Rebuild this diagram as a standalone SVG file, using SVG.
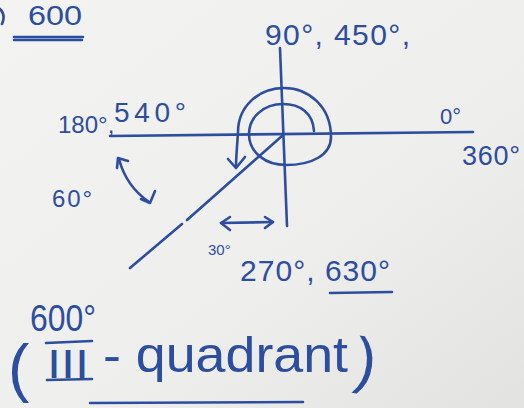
<svg xmlns="http://www.w3.org/2000/svg" width="524" height="408" viewBox="0 0 524 408">
<defs>
<linearGradient id="bg" x1="0" y1="0" x2="1" y2="1">
<stop offset="0" stop-color="#f3f3f1"/>
<stop offset="0.6" stop-color="#eeeeec"/>
<stop offset="1" stop-color="#e2e2e0"/>
</linearGradient>
</defs>
<style>
.ink{fill:none;stroke:#2d4d9e;stroke-width:2.6;stroke-linecap:round;stroke-linejoin:round}
.t{fill:#2d4d9e;font-family:"Liberation Sans","DejaVu Sans",sans-serif}
</style>
<rect width="524" height="408" fill="url(#bg)"/>

<g id="axes">
<path class="ink" d="M280,48 L287,226"/>
<path class="ink" d="M110,136 L473,132"/>
<path class="ink" d="M282,136 L187,220 M182,224 L130,268"/>
</g>

<g id="spiral">
<path class="ink" d="M314,131 C313,113 300,104 283,104 C264,104 249,117 249,134 C249,153 266,165 286,165 C312,165 331,155 331,137 C331,106 308,88 284,88 C258,88 238,107 238,132 C237,148 236,158 236,167"/>
<path class="ink" d="M228,159 L236,168 L245,157"/>
</g>

<g id="arrow60">
<path class="ink" d="M119,159 Q126,186 149,202"/>
<path class="ink" d="M117,168 L118,158 L128,161"/>
<path class="ink" d="M141,199 L150,203 L155,191"/>
</g>

<g id="arrow30">
<path class="ink" d="M221,223 L273,222"/>
<path class="ink" d="M230,217 L221,223 L230,230"/>
<path class="ink" d="M265,217 L273,222 L265,228"/>
</g>

<g id="top-left">
<path class="ink" d="M0,9 Q6,15 2,24"/>
<text class="t" x="28" y="25" font-size="28" textLength="54" lengthAdjust="spacingAndGlyphs">600</text>
<path class="ink" d="M14,37 L83,37 M14,40 L82,40"/>
</g>

<g id="label-90">
<text class="t" x="265" y="45" font-size="30" textLength="145" lengthAdjust="spacing">90°, 450°,</text>
</g>

<g id="label-180">
<text class="t" x="58" y="133" font-size="24">180°,</text>
<text class="t" x="114" y="122" font-size="28" textLength="72" lengthAdjust="spacing">540°</text>
</g>

<g id="label-0">
<text class="t" x="440" y="124" font-size="22">0°</text>
<text class="t" x="462" y="165" font-size="27" textLength="58" lengthAdjust="spacing">360°</text>
</g>

<g id="label-60">
<text class="t" x="52" y="207" font-size="24" textLength="40" lengthAdjust="spacing">60°</text>
</g>

<g id="label-30">
<text class="t" x="208" y="255" font-size="15">30°</text>
</g>

<g id="label-270">
<text class="t" x="240" y="281" font-size="30" textLength="150" lengthAdjust="spacing">270°, 630°</text>
<path class="ink" d="M330,293 L392,292"/>
</g>

<g id="label-600">
<text class="t" x="30" y="331" font-size="37" textLength="66" lengthAdjust="spacingAndGlyphs">600°</text>
</g>

<g id="label-quadrant">
<text class="t" x="8" y="390" font-size="64">(</text>
<text class="t" x="47" y="378" font-size="40" textLength="42" lengthAdjust="spacingAndGlyphs">III</text>
<path class="ink" d="M46,343 L92,341 M47,380 L92,379"/>
<text class="t" x="103" y="372" font-size="50" textLength="245" lengthAdjust="spacingAndGlyphs">- quadrant</text>
<text class="t" x="356" y="382" font-size="62" transform="rotate(8 368 360)">)</text>
<path class="ink" d="M90,403 L303,402"/>
</g>
</svg>
